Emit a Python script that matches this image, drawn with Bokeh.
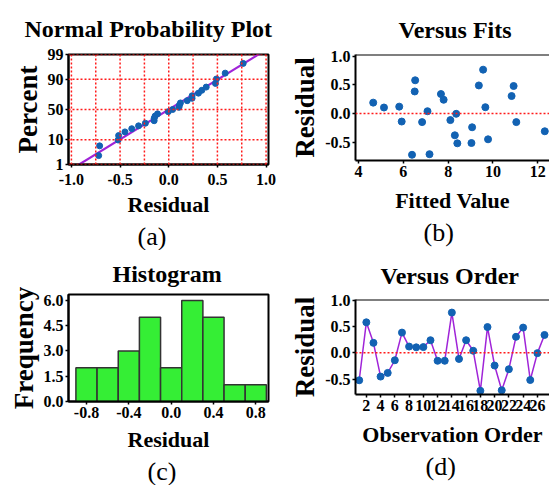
import numpy as np
from statistics import NormalDist

from bokeh.plotting import figure
from bokeh.layouts import column, row
from bokeh.models import Range1d, FixedTicker, Span, Title, NumeralTickFormatter
from bokeh.embed import file_html
from bokeh.resources import INLINE

# Residual diagnostics for a 27-run fit
observation = list(range(1, 28))
residual = [-0.52, 0.58, 0.19, -0.45, -0.38, -0.14, 0.385, 0.12, 0.105, 0.11,
            0.24, -0.15, -0.15, 0.765, -0.115, 0.24, 0.04, -0.72, 0.49, -0.24,
            -0.71, -0.31, 0.305, 0.48, -0.515, -0.005, 0.34]
fitted = [8.41, 6.53, 4.66, 9.78, 8.30, 5.93, 6.51, 5.82, 5.14, 9.66,
          7.80, 6.84, 11.04, 9.56, 8.10, 12.90, 7.08, 6.39, 9.37, 9.07,
          7.17, 12.31, 10.83, 10.92, 9.04, 8.36, 7.68]

percent_ticks = [1, 10, 50, 90, 99]
prob_x_ticks = [-1.0, -0.5, 0.0, 0.5, 1.0]
prob_grid_x = [-1.0, -0.75, -0.5, -0.25, 0.0, 0.25, 0.5, 0.75, 1.0]
hist_edges = [-0.9, -0.7, -0.5, -0.3, -0.1, 0.1, 0.3, 0.5, 0.7, 0.9]
hist_x_ticks = [-0.8, -0.4, 0.0, 0.4, 0.8]
hist_y_ticks = [0.0, 1.5, 3.0, 4.5, 6.0]
resid_ticks = [-0.5, 0.0, 0.5, 1.0]
fit_ticks = [4, 6, 8, 10, 12]
order_ticks = list(range(2, 27, 2))

FONT = "Liberation Serif"
BLUE = "#1262b3"
PURPLE = "#a024d8"
RED = "#ff1a1a"
GREEN = "#35ee35"


def make_fig(w, h, xr, yr, left, right, top, bottom,
             title, t_offset, t_standoff, caption, c_offset, c_standoff,
             xlabel, ylabel, tick_standoff, xlabel_standoff):
    p = figure(width=w, height=h, x_range=Range1d(*xr), y_range=Range1d(*yr),
               output_backend="svg", toolbar_location=None,
               min_border_left=left, min_border_right=right,
               min_border_top=top, min_border_bottom=bottom)
    p.title.text = title
    p.title.align = "left"
    p.title.offset = t_offset
    p.title.standoff = t_standoff
    p.title.text_font = FONT
    p.title.text_font_style = "bold"
    p.title.text_font_size = "24px"
    p.title.text_color = "black"
    p.outline_line_color = "black"
    p.outline_line_width = 2
    p.xgrid.visible = False
    p.ygrid.visible = False
    for ax in (p.xaxis[0], p.yaxis[0]):
        ax.major_label_text_font = FONT
        ax.major_label_text_font_style = "bold"
        ax.major_label_text_font_size = "16px"
        ax.major_label_text_color = "black"
        ax.axis_label_text_font = FONT
        ax.axis_label_text_font_style = "bold"
        ax.axis_label_text_color = "black"
        ax.axis_line_color = "black"
        ax.axis_line_width = 2
        ax.major_tick_line_color = "black"
        ax.major_tick_line_width = 1.5
        ax.major_tick_in = 0
        ax.major_tick_out = 3
        ax.minor_tick_line_color = None
        ax.major_label_standoff = 2
    p.xaxis.major_label_standoff = tick_standoff
    p.xaxis.axis_label = xlabel
    p.yaxis.axis_label = ylabel
    p.xaxis.axis_label_text_font_size = "22px"
    p.yaxis.axis_label_text_font_size = "27px"
    p.xaxis.axis_label_standoff = xlabel_standoff
    p.yaxis.axis_label_standoff = 2
    p.add_layout(Title(text=caption, align="left", offset=c_offset, standoff=c_standoff,
                       text_font=FONT, text_font_style="normal",
                       text_font_size="26px", text_color="black"), "below")
    return p


def red_dotted(p, loc, dim):
    p.add_layout(Span(location=loc, dimension=dim, line_color=RED,
                      line_dash="2 2", line_width=1.5))


# (a) Normal probability plot
nd = NormalDist()
n = len(residual)
res_sorted = sorted(residual)
z_pos = [nd.inv_cdf((i + 1 - 0.3) / (n + 0.4)) for i in range(n)]
z_ticks = [nd.inv_cdf(pc / 100) for pc in percent_ticks]
mu = float(np.mean(residual))
sd = float(np.std(residual, ddof=1))

pa = make_fig(280, 250, (-1.03, 1.025), (z_ticks[0], z_ticks[-1]), 68, 12, 53, 86,
              "Normal Probability Plot", -44, 26, "(a)", 69, 0,
              "Residual", "Percent", 6, 4)
pa.xaxis.ticker = FixedTicker(ticks=prob_x_ticks)
pa.xaxis.formatter = NumeralTickFormatter(format="0.0")
pa.yaxis.ticker = FixedTicker(ticks=z_ticks)
pa.yaxis.major_label_overrides = {z: str(pc) for z, pc in zip(z_ticks, percent_ticks)}
for gx in prob_grid_x:
    red_dotted(pa, gx, "height")
for gz in z_ticks:
    red_dotted(pa, gz, "width")
z_end = [z_ticks[0] - 0.2, z_ticks[-1] + 0.2]
pa.line([mu + sd * z for z in z_end], z_end, line_color=PURPLE, line_width=2.2)
pa.scatter(res_sorted, z_pos, size=6, color=BLUE)

# (c) Histogram of residuals
counts, _ = np.histogram(residual, bins=hist_edges)
pc = make_fig(280, 235, (-0.97, 0.92), (0, 6.35), 68, 12, 42, 79,
              "Histogram", 44, 16, "(c)", 79, 0,
              "Residual", "Frequency", 2, 6)
pc.quad(left=hist_edges[:-1], right=hist_edges[1:], bottom=0, top=counts,
        fill_color=GREEN, line_color="#333333", line_width=1.5)
pc.xaxis.ticker = FixedTicker(ticks=hist_x_ticks)
pc.xaxis.formatter = NumeralTickFormatter(format="0.0")
pc.yaxis.ticker = FixedTicker(ticks=hist_y_ticks)
pc.yaxis.formatter = NumeralTickFormatter(format="0.0")

# (b) Residuals versus fitted values
pb = make_fig(269, 250, (3.87, 12.52), (-0.82, 1.03), 75, 0, 54, 90,
              "Versus Fits", 43, 24, "(b)", 68, 0,
              "Fitted Value", "Residual", 2, 8)
pb.outline_line_color = None
pb.add_layout(Span(location=1.03, dimension="width", line_color="black", line_width=2))
pb.xaxis.ticker = FixedTicker(ticks=fit_ticks)
pb.yaxis.ticker = FixedTicker(ticks=resid_ticks)
pb.yaxis.formatter = NumeralTickFormatter(format="0.0")
red_dotted(pb, 0, "width")
pb.scatter(fitted, residual, size=7, color=BLUE)

# (d) Residuals versus observation order
pd_ = make_fig(269, 235, (0.48, 27.7), (-0.79, 1.013), 75, 0, 48, 91,
               "Versus Order", 25, 21, "(d)", 70, 0,
               "Observation Order", "Residual", 2, 8)
pd_.outline_line_color = None
pd_.add_layout(Span(location=1.013, dimension="width", line_color="black", line_width=2))
pd_.xaxis.ticker = FixedTicker(ticks=order_ticks)
pd_.yaxis.ticker = FixedTicker(ticks=resid_ticks)
pd_.yaxis.formatter = NumeralTickFormatter(format="0.0")
red_dotted(pd_, 0, "width")
pd_.line(observation, residual, line_color=PURPLE, line_width=1.5)
pd_.scatter(observation, residual, size=7, color=BLUE)

page = row(column(pa, pc), column(pb, pd_))

open("out.html", "w").write(file_html(page, INLINE))
